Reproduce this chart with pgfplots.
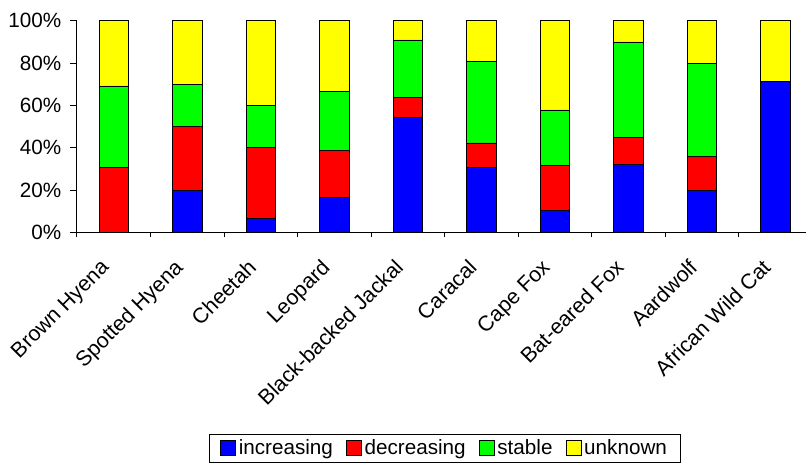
\documentclass[border=0pt]{standalone}
\usepackage{fontspec}
\setmainfont{Liberation Sans}
\usepackage{pgfplots}
\usepackage{pgfplotstable}
\pgfplotsset{compat=1.18}
\definecolor{cinc}{RGB}{0,0,255}
\definecolor{cdec}{RGB}{255,0,0}
\definecolor{csta}{RGB}{0,255,0}
\definecolor{cunk}{RGB}{255,255,0}
\pgfplotstableread{
x inc dec sta unk
0 0 30.8 38.4 30.8
1 20 30 20 30
2 6.7 33.3 20 40
3 16.7 22.2 27.8 33.3
4 54.5 9.1 27.3 9.1
5 30.8 11.5 38.5 19.2
6 10.5 21.1 26.3 42.1
7 32 13 45 10
8 20 16 44 20
9 71.4 0 0 28.6
}\datatable
\begin{document}
\begin{tikzpicture}
\useasboundingbox (0,0) rectangle (604.5pt,348.75pt);
\begin{axis}[
  at={(57.75pt,174.5pt)}, anchor=south west,
  scale only axis, width=551.25pt, height=158.7pt,
  font=\fontsize{15.5}{18}\selectfont,
  ybar stacked, bar width=0.4,
  xmin=-0.5, xmax=9.5, ymin=0, ymax=100,
  axis x line*=bottom, axis y line*=left,
  axis line style={-, line width=0.75pt, black},
  tick align=outside,
  major tick length=5.25pt, minor tick length=3.75pt,
  tick style={line width=0.75pt, black},
  major x tick style={draw=none},
  xtick={0,...,9},
  minor xtick={-0.5,0.5,...,9.5},
  xticklabels={Brown Hyena,Spotted Hyena,Cheetah,Leopard,Black-backed Jackal,Caracal,Cape Fox,Bat-eared Fox,Aardwolf,African Wild Cat},
  xticklabel style={rotate=45, anchor=north east, inner sep=0pt, xshift=-17.3pt, yshift=-2.2pt,
    font=\fontsize{16}{19}\selectfont},
  ytick={0,20,...,100},
  yticklabel={\pgfmathprintnumber{\tick}\%},
  yticklabel style={xshift=-3pt},
  /pgf/number format/assume math mode=true,
  every bar/.append style={draw=black, line width=1.25pt},
  legend columns=4,
  legend image code/.code={\draw[#1, draw=black, line width=0.75pt] (0pt,-5.5pt) rectangle (11pt,5.5pt);},
  legend style={at={(0.5007,-0.953)}, anchor=north, draw=black, line width=0.75pt,
    inner xsep=8pt, inner ysep=2pt, font=\fontsize{15.5}{18}\selectfont,
    /tikz/every even column/.append style={column sep=8pt}},
]
\addplot+[fill=cinc, draw=black] table[x=x, y=inc] {\datatable};
\addplot+[fill=cdec, draw=black] table[x=x, y=dec] {\datatable};
\addplot+[fill=csta, draw=black] table[x=x, y=sta] {\datatable};
\addplot+[fill=cunk, draw=black] table[x=x, y=unk] {\datatable};
\legend{increasing,decreasing,stable,unknown}
\end{axis}
\end{tikzpicture}
\end{document}
